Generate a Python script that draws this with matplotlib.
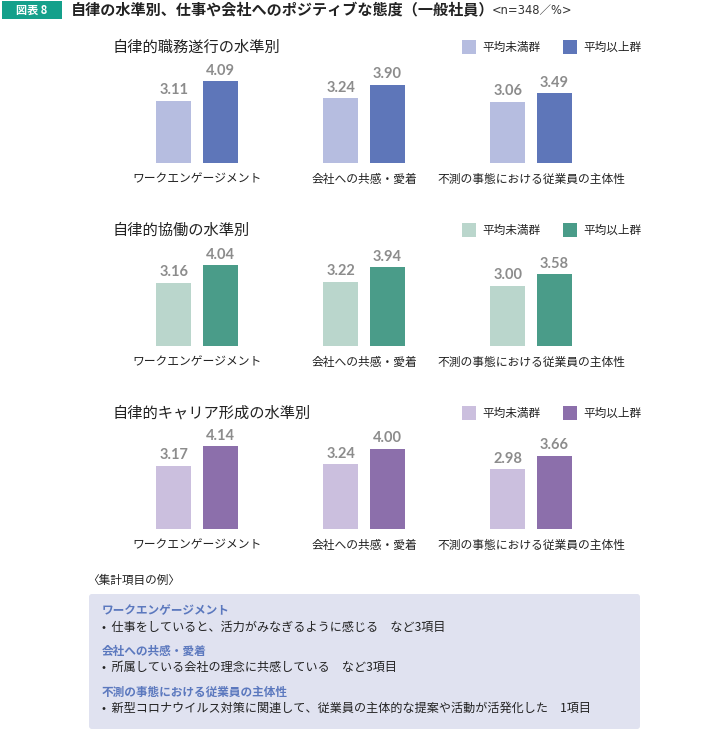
import matplotlib
matplotlib.use("Agg")
import matplotlib.pyplot as plt
from matplotlib.patches import Rectangle, FancyBboxPatch
import numpy as np

plt.rcParams['font.family'] = ['Noto Sans CJK JP', 'DejaVu Sans']

# data
categories = ['ワークエンゲージメント', '会社への共感・愛着', '不測の事態における従業員の主体性']
legend_labels = ['平均未満群', '平均以上群']
panel_titles = ['自律的職務遂行の水準別', '自律的協働の水準別', '自律的キャリア形成の水準別']
below_avg = [[3.11, 3.24, 3.06], [3.16, 3.22, 3.00], [3.17, 3.24, 2.98]]
above_avg = [[4.09, 3.90, 3.49], [4.04, 3.94, 3.58], [4.14, 4.00, 3.66]]
light_colors = ['#b6bde0', '#bad6cc', '#cbbfde']
dark_colors = ['#5e76b9', '#4a9c89', '#8c6fab']

example_heads = ['ワークエンゲージメント', '会社への共感・愛着', '不測の事態における従業員の主体性']
example_items = ['•  仕事をしていると、活力がみなぎるように感じる　など3項目',
                 '•  所属している会社の理念に共感している　など3項目',
                 '•  新型コロナウイルス対策に関連して、従業員の主体的な提案や活動が活発化した　1項目']

W, H = 728, 734
fig = plt.figure(figsize=(W / 100, H / 100), dpi=100)


def fx(x):
    return x / W


def fy(y):
    return 1 - y / H


# header
fig.patches.append(Rectangle((fx(2), fy(19)), fx(60), 18 / H, transform=fig.transFigure,
                             facecolor='#14a08b', edgecolor='none'))
fig.text(fx(32), fy(10), '図表 8', color='white', fontsize=8, fontweight='bold', ha='center', va='center')
fig.text(fx(71), fy(10), '自律の水準別、仕事や会社へのポジティブな態度（一般社員）',
         fontsize=10.9, fontweight='bold', color='#222222', va='center')
fig.text(fx(492), fy(11), '<n=348／%>', fontsize=8.3, color='#333333', va='center',
         family=['DejaVu Sans', 'Noto Sans CJK JP'])

# panels
bottoms = [163, 346, 529]
x = np.arange(len(categories))
bw = 0.21
off = 0.138
for i in range(3):
    b = bottoms[i]
    ax = fig.add_axes([fx(113.5), fy(b), 501 / W, 100 / H])
    ax.bar(x - off, below_avg[i], bw, color=light_colors[i])
    ax.bar(x + off, above_avg[i], bw, color=dark_colors[i])
    for xs, vals in ((x - off, below_avg[i]), (x + off, above_avg[i])):
        for xx, v in zip(xs, vals):
            ax.text(xx, v + 0.18, f'{v:.2f}', ha='center', va='bottom', color='#8c8c8c',
                    fontsize=10.5, fontweight='bold', family=['Lato', 'DejaVu Sans'])
    ax.set_xlim(-0.5, 2.5)
    ax.set_ylim(0, 5)
    ax.set_xticks(x)
    ax.set_xticklabels(categories, fontsize=8.5, color='#222222')
    ax.tick_params(axis='x', length=0, pad=7)
    ax.set_yticks([])
    for s in ax.spines.values():
        s.set_visible(False)
    ax.patch.set_alpha(0)

    ty = b - 116
    fig.text(fx(113), fy(ty), panel_titles[i], fontsize=11, color='#222222', va='center')
    for lx, c, lab in ((462, light_colors[i], legend_labels[0]), (563, dark_colors[i], legend_labels[1])):
        fig.patches.append(Rectangle((fx(lx), fy(ty + 7)), 14 / W, 14 / H, transform=fig.transFigure,
                                     facecolor=c, edgecolor='none'))
        fig.text(fx(lx + 20), fy(ty), lab, fontsize=8.4, color='#222222', va='center')

# example box
fig.text(fx(87), fy(580), '〈集計項目の例〉', fontsize=8.4, color='#222222', va='center')
fig.patches.append(FancyBboxPatch((fx(89), fy(729)), 551 / W, 135 / H, transform=fig.transFigure,
                                  boxstyle='round,pad=0,rounding_size=0.004',
                                  facecolor='#e0e2f0', edgecolor='none'))
for k in range(3):
    hy = 611 + k * 40.5
    fig.text(fx(102), fy(hy), example_heads[k], fontsize=8.4, fontweight='bold', color='#5b78be', va='center')
    fig.text(fx(102), fy(hy + 16), example_items[k], fontsize=8.7, color='#222222', va='center')

fig.savefig('out.png', dpi=100, facecolor='white')
